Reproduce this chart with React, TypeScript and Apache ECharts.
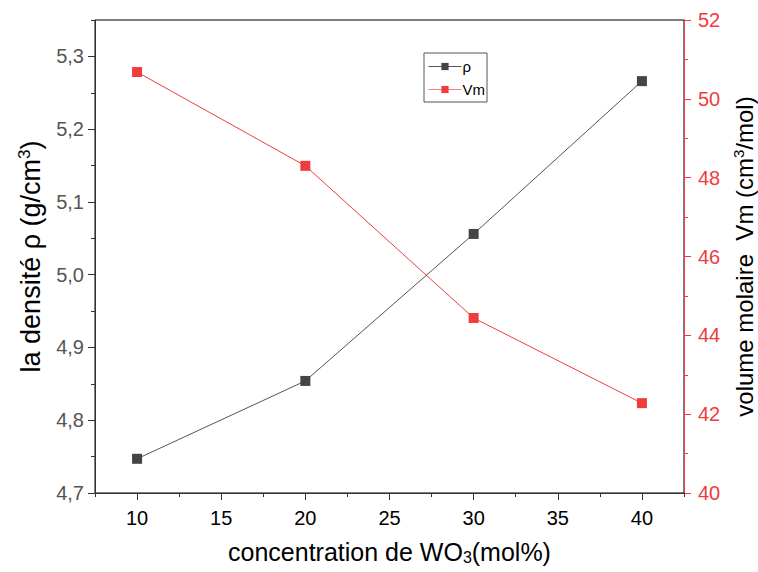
import React, { useEffect, useRef } from "react";
import * as echarts from "echarts";

const concentrations = [10, 20, 30, 40];
const density = [4.747, 4.854, 5.056, 5.266];
const molarVolume = [50.68, 48.3, 44.44, 42.28];
const xMajorTicks = [10, 15, 20, 25, 30, 35, 40];
const xMinorTicks = [7.5, 12.5, 17.5, 22.5, 27.5, 32.5, 37.5, 42.5];
const leftMajorTicks = [4.7, 4.8, 4.9, 5.0, 5.1, 5.2, 5.3];
const leftMinorTicks = [4.75, 4.85, 4.95, 5.05, 5.15, 5.25, 5.35];
const rightMajorTicks = [40, 42, 44, 46, 48, 50, 52];
const rightMinorTicks = [41, 43, 45, 47, 49, 51];

const FONT = "'Liberation Sans', Arial, sans-serif";
const BLACK = "#333333";
const GRAY = "#444444";
const RED = "#f03c3c";

export default function App() {
  const ref = useRef<HTMLDivElement>(null);
  useEffect(() => {
    if (!ref.current) return;
    const chart = echarts.init(ref.current, null, { renderer: "svg" });
    const pair = (xs: number[], ys: number[]) => xs.map((x, i) => [x, ys[i]]);
    const nameStyle = (key: string, align: string, size: number, subLine: number) => ({
      fontSize: size,
      lineHeight: size + 2,
      color: "#000",
      fontFamily: FONT,
      rich: {
        [key]: {
          fontSize: Math.round(size * 0.64),
          verticalAlign: align,
          lineHeight: subLine,
          fontFamily: FONT,
          color: "#000",
        },
      },
    });
    chart.setOption({
      animation: false,
      backgroundColor: "#ffffff",
      textStyle: { fontFamily: FONT },
      grid: {
        left: 95,
        right: 74,
        top: 20,
        bottom: 79,
        show: true,
        borderColor: "#000000",
        borderWidth: 1,
        backgroundColor: "transparent",
        containLabel: false,
        outerBoundsMode: "none",
      },
      legend: {
        left: 424,
        top: 53,
        orient: "vertical",
        data: [
          { name: "ρ", itemStyle: { color: GRAY }, lineStyle: { color: "#555555", width: 1 } },
          { name: "Vm", itemStyle: { color: RED }, lineStyle: { color: "#f58080", width: 1 } },
        ],
        itemWidth: 33,
        itemHeight: 9,
        itemGap: 8,
        padding: [6, 2, 5, 4],
        borderColor: "#555555",
        borderWidth: 1,
        textStyle: { fontSize: 15, color: "#000", fontFamily: FONT, padding: [0, 0, 0, -4] },
      },
      xAxis: [
        {
          type: "value",
          min: 7.5,
          max: 42.5,
          position: "bottom",
          name: "concentration de WO{sub|3}(mol%)",
          nameLocation: "middle",
          nameGap: 45,
          nameTextStyle: nameStyle("sub", "bottom", 25, 10),
          axisLine: { show: true, lineStyle: { color: BLACK, width: 1 } },
          axisTick: { show: true, customValues: xMajorTicks, length: 7, lineStyle: { color: BLACK } },
          axisLabel: {
            customValues: xMajorTicks,
            fontSize: 20,
            color: "#000",
            margin: 15,
            fontFamily: FONT,
          },
          splitLine: { show: false },
        },
        {
          type: "value",
          min: 7.5,
          max: 42.5,
          position: "bottom",
          axisLine: { show: false },
          axisTick: { show: true, customValues: xMinorTicks, length: 4, lineStyle: { color: BLACK } },
          axisLabel: { show: false },
          splitLine: { show: false },
        },
      ],
      yAxis: [
        {
          type: "value",
          min: 4.7,
          max: 5.35,
          position: "left",
          name: "la densité ρ (g/cm{sup|3})",
          nameLocation: "middle",
          nameRotate: 90,
          nameGap: 42,
          nameTextStyle: nameStyle("sup", "top", 27, 17),
          axisLine: { show: true, lineStyle: { color: BLACK, width: 1 } },
          axisTick: { show: true, customValues: leftMajorTicks, length: 7, lineStyle: { color: BLACK } },
          axisLabel: {
            customValues: leftMajorTicks,
            fontSize: 20,
            color: "#555555",
            margin: 11,
            fontFamily: FONT,
            formatter: (v: number) => v.toFixed(1).replace(".", ","),
          },
          splitLine: { show: false },
        },
        {
          type: "value",
          min: 4.7,
          max: 5.35,
          position: "left",
          axisLine: { show: false },
          axisTick: { show: true, customValues: leftMinorTicks, length: 4, lineStyle: { color: BLACK } },
          axisLabel: { show: false },
          splitLine: { show: false },
        },
        {
          type: "value",
          min: 40,
          max: 52,
          position: "right",
          name: "volume molaire  Vm (cm{sup|3}/mol)",
          nameLocation: "middle",
          nameRotate: 90,
          nameGap: 38,
          nameTextStyle: nameStyle("sup", "top", 24, 15),
          axisLine: { show: true, lineStyle: { color: RED, width: 1 } },
          axisTick: { show: true, customValues: rightMajorTicks, length: 7, lineStyle: { color: RED } },
          axisLabel: {
            customValues: rightMajorTicks,
            fontSize: 20,
            color: RED,
            margin: 14,
            fontFamily: FONT,
          },
          splitLine: { show: false },
        },
        {
          type: "value",
          min: 40,
          max: 52,
          position: "right",
          axisLine: { show: false },
          axisTick: { show: true, customValues: rightMinorTicks, length: 4, lineStyle: { color: RED } },
          axisLabel: { show: false },
          splitLine: { show: false },
        },
      ],
      series: [
        {
          name: "ρ",
          type: "line",
          xAxisIndex: 0,
          yAxisIndex: 0,
          data: pair(concentrations, density),
          symbol: "rect",
          symbolSize: 10,
          itemStyle: { color: GRAY },
          lineStyle: { color: "#555555", width: 1 },
        },
        {
          name: "Vm",
          type: "line",
          xAxisIndex: 0,
          yAxisIndex: 2,
          data: pair(concentrations, molarVolume),
          symbol: "rect",
          symbolSize: 10,
          itemStyle: { color: RED },
          lineStyle: { color: RED, width: 1 },
        },
      ],
    });
    return () => chart.dispose();
  }, []);
  return (
    <div
      ref={ref}
      style={{ position: "fixed", left: 0, top: 0, width: 758, height: 572, background: "#fff" }}
    />
  );
}
